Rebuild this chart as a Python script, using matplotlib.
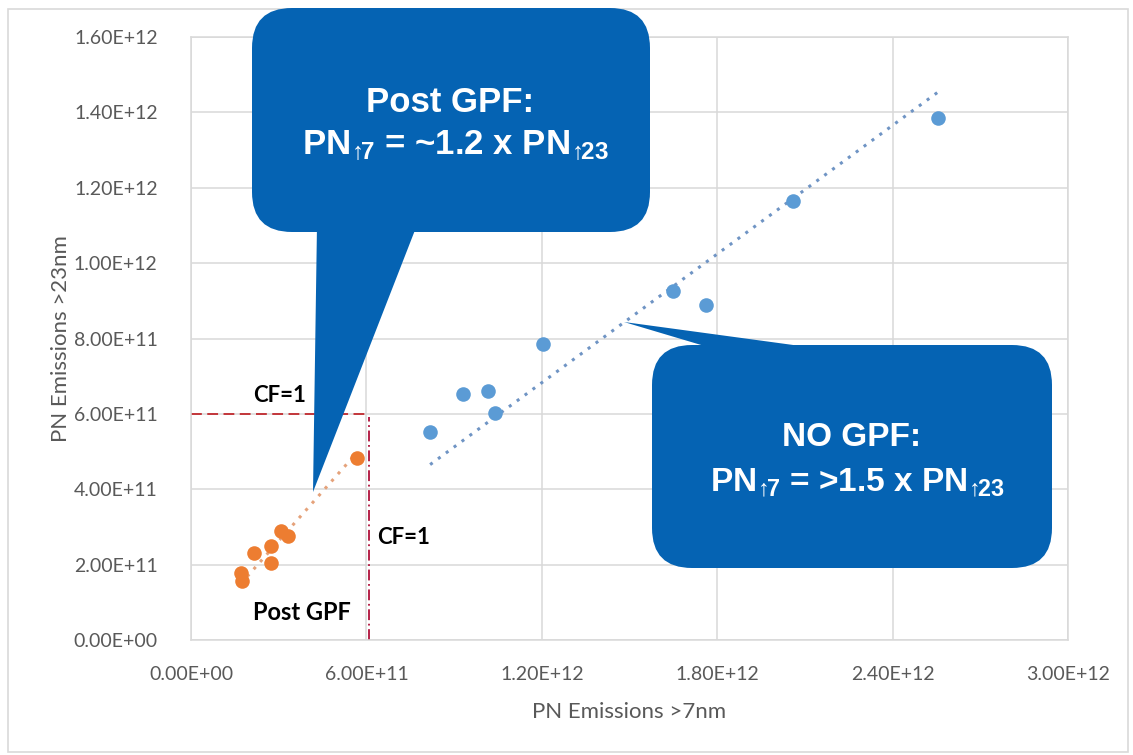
import numpy as np
import matplotlib
matplotlib.use('Agg')
import matplotlib.pyplot as plt
import matplotlib.transforms as mtransforms
from matplotlib.patches import FancyBboxPatch, Polygon, Rectangle
from matplotlib.ticker import FuncFormatter, MultipleLocator

# data (units of 1e11 particles)
no_gpf_x = [8.18, 9.32, 10.17, 10.39, 12.05, 16.50, 17.61, 20.58, 25.55]
no_gpf_y = [5.51, 6.54, 6.61, 6.03, 7.86, 9.27, 8.90, 11.66, 13.85]
post_gpf_x = [5.68, 3.07, 3.33, 2.73, 2.14, 2.73, 1.70, 1.76]
post_gpf_y = [4.82, 2.88, 2.76, 2.50, 2.32, 2.03, 1.79, 1.57]
cf_x = 6.1   # CF=1 reference lines
cf_y = 6.0
scale = 1e11

blue = '#5B9BD5'
orange = '#ED7D31'
callout = '#0563B3'
grey_txt = '#595959'
grid_col = '#D9D9D9'

plt.rcParams['font.family'] = ['Lato', 'DejaVu Sans']
plt.rcParams['mathtext.fontset'] = 'custom'
plt.rcParams['mathtext.rm'] = 'Liberation Sans:bold'
plt.rcParams['mathtext.bf'] = 'Liberation Sans:bold'
plt.rcParams['mathtext.it'] = 'Liberation Sans:bold'
plt.rcParams['mathtext.default'] = 'regular'

W, H = 1133, 755
fig = plt.figure(figsize=(W / 100, H / 100), dpi=100)
ax = fig.add_axes([191 / W, 1 - 640 / H, 877 / W, 603 / H])

bx = np.array(no_gpf_x) * scale
by = np.array(no_gpf_y) * scale
ox = np.array(post_gpf_x) * scale
oy = np.array(post_gpf_y) * scale

# trendlines forced through the origin (as Excel does with intercept = 0)
for x, y, c in ((bx, by, '#6F94C4'), (ox, oy, '#E5A27A')):
    k = np.sum(x * y) / np.sum(x * x)
    xs = np.array([x.min(), x.max()])
    ax.plot(xs, k * xs, linestyle=(0, (1, 2.2)), color=c, lw=2.2, zorder=2)

ax.scatter(bx, by, s=110, color=blue, zorder=3, linewidths=0)
ax.scatter(ox, oy, s=110, color=orange, zorder=3, linewidths=0)

# CF=1 lines
ax.plot([0, cf_y * scale], [cf_y * scale, cf_y * scale], color='#C0282D', lw=1.3,
        linestyle=(0, (6, 3)), zorder=2)
ax.plot([cf_x * scale, cf_x * scale], [0, cf_y * scale * 0.985], color='#B0103A', lw=1.3,
        linestyle=(0, (6, 2, 1, 2)), zorder=2)

ax.set_xlim(0, 3e12)
ax.set_ylim(0, 1.6e12)
ax.xaxis.set_major_locator(MultipleLocator(6e11))
ax.yaxis.set_major_locator(MultipleLocator(2e11))
fmt = FuncFormatter(lambda v, p: f'{v:.2E}')
ax.xaxis.set_major_formatter(fmt)
ax.yaxis.set_major_formatter(fmt)
ax.grid(True, color=grid_col, lw=1.1)
ax.set_axisbelow(True)
for s in ax.spines.values():
    s.set_color(grid_col)
    s.set_linewidth(1.1)
ax.tick_params(length=0, labelsize=14, labelcolor=grey_txt)
ax.tick_params(axis='y', pad=24)
ax.tick_params(axis='x', pad=19)

ax.set_xlabel('PN Emissions >7nm', fontsize=16, color=grey_txt)
ax.set_ylabel('PN Emissions >23nm', fontsize=16, color=grey_txt)
ax.xaxis.set_label_coords(0.5, -0.102)
ax.yaxis.set_label_coords(-0.137, 0.5)

# pixel-based transform (y down) for the annotation shapes
pix = mtransforms.Affine2D().scale(1 / 100, -1 / 100).translate(0, H / 100) + fig.dpi_scale_trans

fig.add_artist(Rectangle((8, 9), 1120, 743, transform=pix, fill=False,
                         edgecolor=grid_col, lw=1.2, zorder=0))

fig.text(280 / W, 1 - 396 / H, 'CF=1', fontsize=16, fontweight='bold', ha='center', va='center')
fig.text(404 / W, 1 - 538 / H, 'CF=1', fontsize=16, fontweight='bold', ha='center', va='center')
fig.text(302 / W, 1 - 613 / H, 'Post GPF', fontsize=17, fontweight='bold', ha='center', va='center')

# callout: Post GPF
fig.add_artist(FancyBboxPatch((252, 8), 398, 224, boxstyle='round,pad=0,rounding_size=40',
                              transform=pix, facecolor=callout, edgecolor='none', zorder=5))
fig.add_artist(Polygon([(317, 225), (417, 225), (313, 492)], closed=True, transform=pix,
                       facecolor=callout, edgecolor='none', zorder=5))
fig.text(450 / W, 1 - 103 / H, 'Post GPF:', fontsize=25,
         family='Liberation Sans', fontweight='bold', color='white', ha='center', va='center', zorder=6)
fig.text(455 / W, 1 - 147 / H, r'PN$_{\!\uparrow\!\!7}$ = ~1.2 x PN$_{\!\uparrow\!\!23}$', fontsize=25,
         family='Liberation Sans', fontweight='bold', color='white', ha='center', va='center', zorder=6)

# callout: NO GPF
fig.add_artist(FancyBboxPatch((652, 345), 400, 223, boxstyle='round,pad=0,rounding_size=40',
                              transform=pix, facecolor=callout, edgecolor='none', zorder=5))
fig.add_artist(Polygon([(624, 322), (718, 350), (830, 350)], closed=True, transform=pix,
                       facecolor=callout, edgecolor='none', zorder=5))
fig.text(852 / W, 1 - 438 / H, 'NO GPF:', fontsize=24,
         family='Liberation Sans', fontweight='bold', color='white', ha='center', va='center', zorder=6)
fig.text(857 / W, 1 - 483 / H, r'PN$_{\!\uparrow\!\!7}$ = >1.5 x PN$_{\!\uparrow\!\!23}$', fontsize=24,
         family='Liberation Sans', fontweight='bold', color='white', ha='center', va='center', zorder=6)

fig.savefig('out.png', dpi=100, facecolor='white')
